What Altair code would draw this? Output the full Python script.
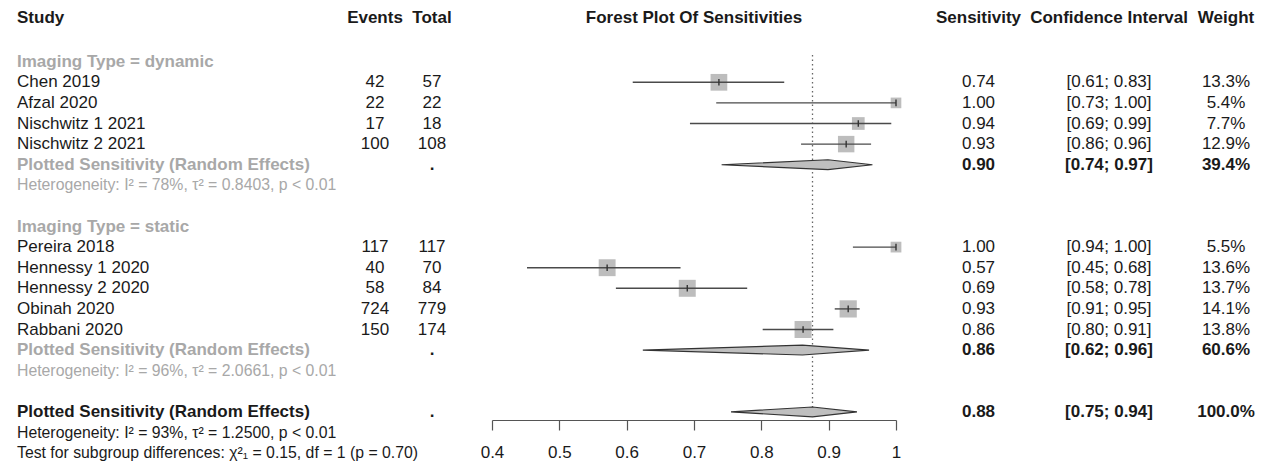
import altair as alt
import pandas as pd

# ---------------- data ----------------
studies = ["Chen 2019", "Afzal 2020", "Nischwitz 1 2021", "Nischwitz 2 2021",
           "Pereira 2018", "Hennessy 1 2020", "Hennessy 2 2020", "Obinah 2020", "Rabbani 2020"]
events = [42, 22, 17, 100, 117, 40, 58, 724, 150]
totals = [57, 22, 18, 108, 117, 70, 84, 779, 174]
sens = [0.737, 1.0, 0.944, 0.926, 1.0, 0.571, 0.690, 0.929, 0.862]
ci_lower = [0.609, 0.733, 0.694, 0.859, 0.936, 0.452, 0.584, 0.909, 0.802]
ci_upper = [0.834, 1.0, 0.993, 0.963, 1.0, 0.680, 0.779, 0.946, 0.907]
weights = [13.3, 5.4, 7.7, 12.9, 5.5, 13.6, 13.7, 14.1, 13.8]
study_rows = [1, 2, 3, 4, 9, 10, 11, 12, 13]
sens_text = ["0.74", "1.00", "0.94", "0.93", "1.00", "0.57", "0.69", "0.93", "0.86"]
ci_text = ["[0.61; 0.83]", "[0.73; 1.00]", "[0.69; 0.99]", "[0.86; 0.96]",
           "[0.94; 1.00]", "[0.45; 0.68]", "[0.58; 0.78]", "[0.91; 0.95]", "[0.80; 0.91]"]
weight_text = ["13.3%", "5.4%", "7.7%", "12.9%", "5.5%", "13.6%", "13.7%", "14.1%", "13.8%"]

pooled_rows = [5, 14, 17]
pooled_est = [0.899, 0.861, 0.876]
pooled_lower = [0.741, 0.624, 0.755]
pooled_upper = [0.965, 0.960, 0.942]
pooled_sens_text = ["0.90", "0.86", "0.88"]
pooled_ci_text = ["[0.74; 0.97]", "[0.62; 0.96]", "[0.75; 0.94]"]
pooled_weight_text = ["39.4%", "60.6%", "100.0%"]
pooled_label = "Plotted Sensitivity (Random Effects)"

subgroup_labels = ["Imaging Type = dynamic", "Imaging Type = static"]
subgroup_rows = [0, 8]
het_texts = ["Heterogeneity: I² = 78%, τ² = 0.8403, p < 0.01",
             "Heterogeneity: I² = 96%, τ² = 2.0661, p < 0.01",
             "Heterogeneity: I² = 93%, τ² = 1.2500, p < 0.01"]
het_rows = [6, 15, 18]
test_text = "Test for subgroup differences: χ²₁ = 0.15, df = 1 (p = 0.70)"
test_row = 19

header_row = -2.12
left_headers = ["Study", "Events", "Total"]
right_headers = ["Sensitivity", "Confidence Interval", "Weight"]
plot_title = "Forest Plot Of Sensitivities"
x_ticks = [0.4, 0.5, 0.6, 0.7, 0.8, 0.9, 1.0]
ref_line_rows = [-0.33, 17.25]

# ---------------- style / layout ----------------
FONT = "Liberation Sans"
BLACK = "#1a1a1a"
GREY = "#a8a8a8"
FS = 17
FS_SMALL = 15.8
ROW_PX = 20.6
TOP = -2.607
DIAMOND_HALF = 0.24
TICK_HALF = 0.16

LEFT_W, MID_W, RIGHT_W = 484, 404, 366
H = 412

YS = alt.Scale(domain=[TOP, TOP + H / ROW_PX], reverse=True, nice=False, zero=False)


def txt(df, field, x, align="left", weight="normal", color=BLACK, size=FS):
    return alt.Chart(df).mark_text(
        align=align, baseline="middle", font=FONT, fontSize=size,
        fontWeight=weight, color=color
    ).encode(
        x=alt.value(x),
        y=alt.Y("row:Q", scale=YS, axis=None),
        text=alt.Text("%s:N" % field),
    )


# tables
df_st = pd.DataFrame({
    "row": study_rows, "study": studies, "events": [str(e) for e in events],
    "total": [str(t) for t in totals], "sens": sens, "lo": ci_lower, "hi": ci_upper,
    "weight": weights, "sens_t": sens_text, "ci_t": ci_text, "w_t": weight_text,
})
df_pool = pd.DataFrame({
    "row": pooled_rows, "label": [pooled_label] * 3, "dot": ["."] * 3,
    "est": pooled_est, "lo": pooled_lower, "hi": pooled_upper,
    "sens_t": pooled_sens_text, "ci_t": pooled_ci_text, "w_t": pooled_weight_text,
})
df_pool_sub = df_pool.iloc[:2].reset_index(drop=True)
df_pool_all = df_pool.iloc[2:].reset_index(drop=True)
df_subg = pd.DataFrame({"row": subgroup_rows, "label": subgroup_labels})
df_het_sub = pd.DataFrame({"row": het_rows[:2], "label": het_texts[:2]})
df_het_all = pd.DataFrame({"row": [het_rows[2], test_row], "label": [het_texts[2], test_text]})
df_h_study = pd.DataFrame({"row": [header_row], "label": [left_headers[0]]})
df_h_events = pd.DataFrame({"row": [header_row], "label": [left_headers[1]]})
df_h_total = pd.DataFrame({"row": [header_row], "label": [left_headers[2]]})
df_h_sens = pd.DataFrame({"row": [header_row], "label": [right_headers[0]]})
df_h_ci = pd.DataFrame({"row": [header_row], "label": [right_headers[1]]})
df_h_w = pd.DataFrame({"row": [header_row], "label": [right_headers[2]]})
df_title = pd.DataFrame({"row": [header_row], "label": [plot_title]})

# ---------------- left panel ----------------
left = alt.layer(
    txt(df_h_study, "label", 9, weight="bold"),
    txt(df_h_events, "label", 367, align="center", weight="bold"),
    txt(df_h_total, "label", 424, align="center", weight="bold"),
    txt(df_subg, "label", 9, weight="bold", color=GREY),
    txt(df_st, "study", 9),
    txt(df_st, "events", 367, align="center"),
    txt(df_st, "total", 424, align="center"),
    txt(df_pool_sub, "label", 9, weight="bold", color=GREY),
    txt(df_pool_all, "label", 9, weight="bold"),
    txt(df_pool, "dot", 424, align="center", weight="bold"),
    txt(df_het_sub, "label", 9, color=GREY, size=FS_SMALL),
    txt(df_het_all, "label", 9, size=FS_SMALL),
).properties(width=LEFT_W, height=H)

# ---------------- middle panel ----------------
xs = alt.Scale(domain=[x_ticks[0], x_ticks[-1]], nice=False, zero=False)
xaxis = alt.Axis(values=x_ticks, format="~g", grid=False, title=None, tickSize=10,
                 domainColor="#555555", tickColor="#555555", domainWidth=1.2, tickWidth=1.2,
                 labelFont=FONT, labelFontSize=FS, labelColor=BLACK, labelPadding=14,
                 labelFlush=False)

df_ref = pd.DataFrame({"x": [pooled_est[2]], "y": [ref_line_rows[0]], "y2": [ref_line_rows[1]]})
ref = alt.Chart(df_ref).mark_rule(color="#666666", strokeDash=[1.5, 3], strokeWidth=1.3).encode(
    x=alt.X("x:Q", scale=xs, axis=xaxis),
    y=alt.Y("y:Q", scale=YS, axis=None), y2="y2:Q")

squares = alt.Chart(df_st).mark_square(filled=True, color="#bdbdbd", opacity=1).encode(
    x=alt.X("sens:Q", scale=xs),
    y=alt.Y("row:Q", scale=YS, axis=None),
    size=alt.Size("weight:Q", scale=alt.Scale(domain=[0, 100], range=[0, 2100]), legend=None))

ci = alt.Chart(df_st).mark_rule(color="#4a4a4a", strokeWidth=1.4).encode(
    x=alt.X("lo:Q", scale=xs), x2="hi:Q", y=alt.Y("row:Q", scale=YS, axis=None))

est_tick = alt.Chart(df_st).transform_calculate(
    t1="datum.row - %s" % TICK_HALF, t2="datum.row + %s" % TICK_HALF
).mark_rule(color="#333333", strokeWidth=1.4).encode(
    x=alt.X("sens:Q", scale=xs), y=alt.Y("t1:Q", scale=YS, axis=None), y2="t2:Q")

dia_rows = []
for i, r in enumerate(pooled_rows):
    dia_rows.append({"g": i, "x": pooled_lower[i], "y": r, "y2": r})
    dia_rows.append({"g": i, "x": pooled_est[i], "y": r - DIAMOND_HALF, "y2": r + DIAMOND_HALF})
    dia_rows.append({"g": i, "x": pooled_upper[i], "y": r, "y2": r})
df_dia = pd.DataFrame(dia_rows)
diamonds = alt.Chart(df_dia).mark_area(fill="#bfbfbf", stroke="#333333", strokeWidth=1.1,
                                       opacity=1).encode(
    x=alt.X("x:Q", scale=xs), y=alt.Y("y:Q", scale=YS, axis=None), y2="y2:Q", detail="g:N")

title_txt = txt(df_title, "label", MID_W / 2, align="center", weight="bold")

mid = alt.layer(ref, squares, ci, est_tick, diamonds, title_txt).properties(
    width=MID_W, height=H)

# ---------------- right panel ----------------
right = alt.layer(
    txt(df_h_sens, "label", 82.5, align="center", weight="bold"),
    txt(df_h_ci, "label", 213, align="center", weight="bold"),
    txt(df_h_w, "label", 330, align="center", weight="bold"),
    txt(df_st, "sens_t", 82.5, align="center"),
    txt(df_st, "ci_t", 213, align="center"),
    txt(df_st, "w_t", 330, align="center"),
    txt(df_pool, "sens_t", 82.5, align="center", weight="bold"),
    txt(df_pool, "ci_t", 213, align="center", weight="bold"),
    txt(df_pool, "w_t", 330, align="center", weight="bold"),
).properties(width=RIGHT_W, height=H)

chart = alt.hconcat(left, mid, right, spacing=0, bounds="flush").properties(
    padding=0
).configure_view(stroke=None)

chart.save("out.html", embed_options={"renderer": "svg", "actions": False})
